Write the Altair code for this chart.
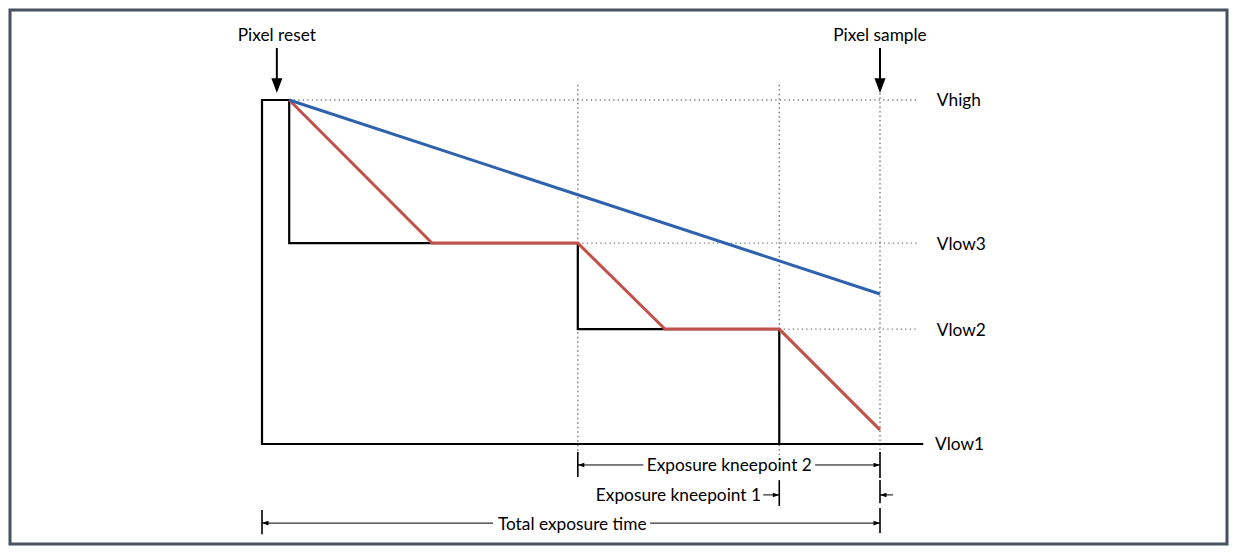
import altair as alt
import pandas as pd

# ---- data (time in % of total exposure, voltage in % of Vhigh) ----
black_t = [107.0, 0.0, 0.0, 4.4, 4.4, 51.1, 51.1, 83.7, 83.7]
black_v = [0.0, 0.0, 100.0, 100.0, 58.4, 58.4, 33.4, 33.4, 0.0]
red_t = [4.4, 27.5, 51.1, 65.2, 83.7, 100.0]
red_v = [100.0, 58.4, 58.4, 33.4, 33.4, 4.1]
blue_t = [4.4, 100.0]
blue_v = [100.0, 43.6]

level_names = ["Vhigh", "Vlow3", "Vlow2", "Vlow1"]
level_v = [100.0, 58.4, 33.4, 0.0]
hguide_start = [4.4, 51.1, 83.7]
hguide_end = 106.0

vguide_t = [51.1, 83.7, 100.0]
vguide_top = [104.4, 104.4, 102.0]
vguide_bottom = -3.2

event_names = ["Pixel reset", "Pixel sample"]
event_t = [2.4, 100.0]

dim_names = ["Exposure kneepoint 2", "Exposure kneepoint 1", "Total exposure time"]

FONT = "Lato"
FS = 17.3
DY = 1.5
X = alt.X("t:Q", scale=alt.Scale(domain=[-40.78, 156.15], nice=False, zero=False), axis=None)
Y = alt.Y("v:Q", scale=alt.Scale(domain=[-29.07, 126.16], nice=False, zero=False), axis=None)

def pts(ts, vs, name):
    return pd.DataFrame({"t": ts, "v": vs, "i": range(len(ts)), "s": name})

black_df = pts(black_t, black_v, "black")
red_df = pts(red_t, red_v, "red")
blue_df = pts(blue_t, blue_v, "blue")

# dotted guides
hg = pd.DataFrame({"t": hguide_start, "t2": [hguide_end] * 3, "v": level_v[:3]})
vg = pd.DataFrame({"t": vguide_t, "v": vguide_top, "v2": [vguide_bottom] * 3})
dot = dict(color="#7a7a7a", strokeWidth=1.4, strokeDash=[1.3, 3.2])
hguides = alt.Chart(hg).mark_rule(**dot).encode(x=X, x2="t2:Q", y=Y)
vguides = alt.Chart(vg).mark_rule(**dot).encode(x=X, y=Y, y2="v2:Q")

black_line = alt.Chart(black_df).mark_line(color="black", strokeWidth=2.2, strokeJoin="miter").encode(x=X, y=Y, order="i:Q")
red_line = alt.Chart(red_df).mark_line(color="#c4504a", strokeWidth=3).encode(x=X, y=Y, order="i:Q")
blue_line = alt.Chart(blue_df).mark_line(color="#2f62ad", strokeWidth=3).encode(x=X, y=Y, order="i:Q")

# level labels
lab = pd.DataFrame({"t": [109.2, 109.2, 109.2, 108.9], "v": level_v, "txt": level_names})
level_text = alt.Chart(lab).mark_text(align="left", baseline="middle", font=FONT, fontSize=FS, color="black", dy=DY).encode(x=X, y=Y, text="txt:N")

# event labels + arrows
ev_text_df = pd.DataFrame({"t": event_t, "v": [118.9, 118.9], "txt": event_names})
event_text = alt.Chart(ev_text_df).mark_text(align="center", baseline="middle", font=FONT, fontSize=FS, color="black", dy=DY).encode(x=X, y=Y, text="txt:N")
shaft_df = pd.DataFrame({"t": event_t, "v": [115.1, 115.1], "v2": [105.0, 105.0]})
shafts = alt.Chart(shaft_df).mark_rule(color="black", strokeWidth=2).encode(x=X, y=Y, y2="v2:Q")

DOWN = "M0,0L-1,-2.7L1,-2.7Z"
RIGHT = "M0,0L-2,-0.7L-2,0.7Z"
LEFT = "M0,0L2,-0.7L2,0.7Z"

# dimension lines
seg_df = pd.DataFrame({
    "t":  [51.1, 89.5, 81.1, 100.0, 0.0, 62.8],
    "t2": [61.7, 100.0, 83.7, 102.1, 37.4, 100.0],
    "v":  [-6.1, -6.1, -14.8, -14.8, -23.0, -23.0],
})
segs = alt.Chart(seg_df).mark_rule(color="black", strokeWidth=1).encode(x=X, x2="t2:Q", y=Y)

tick_df = pd.DataFrame({
    "t":  [51.1, 100.0, 83.7, 100.0, 0.0, 100.0],
    "v":  [-2.3, -2.3, -10.5, -10.5, -19.2, -18.6],
    "v2": [-9.6, -9.9, -18.0, -17.2, -26.2, -25.9],
})
ticks = alt.Chart(tick_df).mark_rule(color="black", strokeWidth=1.6).encode(x=X, y=Y, y2="v2:Q")

dim_text_df = pd.DataFrame({
    "t": [75.6, 80.9, 50.2],
    "v": [-6.1, -14.8, -23.0],
    "txt": dim_names,
    "al": ["center", "right", "center"],
})
dim_text_c = alt.Chart(dim_text_df[dim_text_df.al == "center"]).mark_text(align="center", baseline="middle", font=FONT, fontSize=FS, color="black", dy=DY).encode(x=X, y=Y, text="txt:N")
dim_text_r = alt.Chart(dim_text_df[dim_text_df.al == "right"]).mark_text(align="right", baseline="middle", font=FONT, fontSize=FS, color="black", dx=-1, dy=DY).encode(x=X, y=Y, text="txt:N")

head_df = pd.DataFrame({
    "t":  [2.4, 100.0, 51.1, 100.0, 83.7, 100.0, 0.0, 100.0],
    "v":  [102.0, 102.0, -6.1, -6.1, -14.8, -14.8, -23.0, -23.0],
    "shape": [DOWN, DOWN, LEFT, RIGHT, RIGHT, LEFT, LEFT, RIGHT],
    "size": [121, 121, 42, 42, 42, 42, 42, 42],
})
heads = alt.Chart(head_df).mark_point(filled=True, color="black", opacity=1, strokeWidth=0).encode(
    x=X, y=Y,
    shape=alt.Shape("shape:N", scale=None),
    size=alt.Size("size:Q", scale=None),
)

chart = alt.layer(
    hguides, vguides, black_line, red_line, blue_line,
    level_text, event_text, shafts, segs, ticks, dim_text_c, dim_text_r, heads,
).properties(
    width=1221, height=538, padding=2,
    autosize=alt.AutoSizeParams(type="fit", contains="padding"),
    background="white",
).configure_view(stroke="#46525d", strokeWidth=3)

chart.save("out.html", embed_options={"renderer": "svg", "actions": False})
